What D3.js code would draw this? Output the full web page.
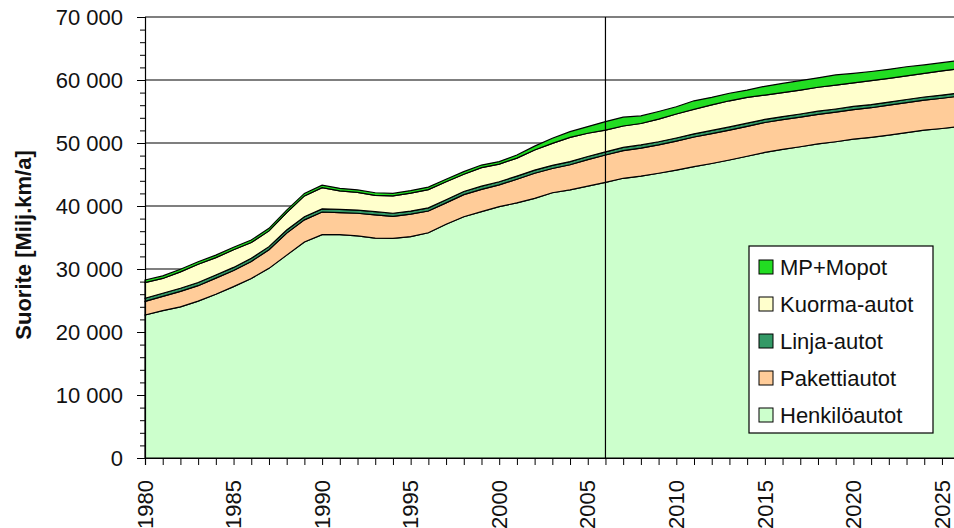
<!DOCTYPE html>
<meta charset="utf-8">
<style>
body { margin: 0; background: #fff; }
text { font-family: Arial, "Liberation Sans", sans-serif; fill: #111; }
.tick-label { font-size: 22px; }
.legend text { font-size: 22px; }
.ylabel { font-size: 22px; font-weight: bold; }
.layer { stroke: #000; stroke-width: 1.2px; }
</style>
<body>
<svg width="954" height="528"></svg>
<script src="https://d3js.org/d3.v7.min.js"></script>
<script>

var years = [1980,1981,1982,1983,1984,1985,1986,1987,1988,1989,
             1990,1991,1992,1993,1994,1995,1996,1997,1998,1999,
             2000,2001,2002,2003,2004,2005,2006,2007,2008,2009,
             2010,2011,2012,2013,2014,2015,2016,2017,2018,2019,
             2020,2021,2022,2023,2024,2025,2026];

var henkiloautot = [22700,23400,24000,24900,26000,27200,28500,30100,32200,34300,
                    35450,35450,35250,34900,34850,35150,35750,37100,38300,39100,
                    39900,40500,41200,42100,42550,43150,43750,44400,44750,45200,
                    45700,46250,46750,47300,47900,48500,49000,49400,49850,50200,
                    50600,50900,51250,51650,52050,52300,52600];

var pakettiautot = [2150,2250,2450,2450,2550,2550,2700,2950,3500,3500,
                    3600,3500,3600,3700,3500,3550,3450,3400,3500,3550,
                    3450,3750,4000,3850,4000,4200,4350,4400,4450,4500,
                    4600,4700,4750,4750,4750,4750,4700,4700,4700,4700,
                    4700,4700,4750,4750,4750,4800,4850];

var linjaautot = [500,500,500,500,500,500,500,500,500,500,
                  500,500,500,500,500,500,500,500,500,500,
                  500,500,500,500,500,500,500,500,500,500,
                  500,500,500,500,500,500,500,500,500,500,
                  500,500,500,500,500,500,500];

var kuormaautot = [2500,2350,2600,2900,2750,2800,2500,2500,2750,3300,
                   3350,2950,2800,2600,2750,2850,2900,2850,2750,2950,
                   2800,2850,3200,3500,3850,3700,3450,3400,3400,3600,
                   3800,3900,4050,4150,4100,3850,3800,3800,3800,3800,
                   3750,3800,3750,3750,3750,3850,3850];

var mpMopot = [400,400,400,400,400,400,400,400,400,400,
               400,400,400,400,400,400,400,400,400,400,
               400,500,600,800,900,1050,1350,1400,1200,1200,
               1150,1350,1200,1200,1150,1400,1450,1500,1500,1600,
               1500,1450,1450,1450,1350,1300,1300];

var seriesNames = ["Henkilöautot", "Pakettiautot", "Linja-autot", "Kuorma-autot", "MP+Mopot"];
var seriesColors = ["#ccffcc", "#ffcc99", "#339966", "#ffffcc", "#22dd22"];
var yTicks = [0, 10000, 20000, 30000, 40000, 50000, 60000, 70000];
var xLabels = [1980, 1985, 1990, 1995, 2000, 2005, 2010, 2015, 2020, 2025];
var markerYear = 2006;
var yTitle = "Suorite [Milj.km/a]";

var svg = d3.select("svg"),
    width = +svg.attr("width"),
    height = +svg.attr("height");

var table = years.map(function(yr, i) {
  var row = { year: yr };
  row[seriesNames[0]] = henkiloautot[i];
  row[seriesNames[1]] = pakettiautot[i];
  row[seriesNames[2]] = linjaautot[i];
  row[seriesNames[3]] = kuormaautot[i];
  row[seriesNames[4]] = mpMopot[i];
  return row;
});

var x = d3.scaleLinear().domain([1980, 2026]).range([145, 145 + 46 * 17.71]);
var y = d3.scaleLinear().domain([0, 70000]).range([458, 17]);

var fmt = d3.formatLocale({ decimal: ",", thousands: "\u00a0", grouping: [3], currency: ["", ""] }).format(",d");

// gridlines behind the areas
svg.append("g")
  .selectAll("line")
  .data(yTicks.slice(1))
  .enter().append("line")
    .attr("x1", x(1980)).attr("x2", width)
    .attr("y1", function(d) { return y(d); })
    .attr("y2", function(d) { return y(d); })
    .attr("stroke", "#000").attr("stroke-width", 1.2);

var stack = d3.stack().keys(seriesNames);
var layers = stack(table);

var area = d3.area()
    .x(function(d) { return x(d.data.year); })
    .y0(function(d) { return y(d[0]); })
    .y1(function(d) { return y(d[1]); });

svg.append("g")
  .selectAll("path")
  .data(layers)
  .enter().append("path")
    .attr("class", "layer")
    .attr("fill", function(d, i) { return seriesColors[i]; })
    .attr("d", area);

// 2006 marker line
svg.append("line")
    .attr("x1", x(markerYear)).attr("x2", x(markerYear))
    .attr("y1", y(70000)).attr("y2", y(0))
    .attr("stroke", "#000").attr("stroke-width", 1.2);

// y axis
var yAxis = d3.axisLeft(y)
    .tickValues(yTicks)
    .tickSize(8)
    .tickPadding(14)
    .tickFormat(fmt);

var yg = svg.append("g")
    .attr("transform", "translate(" + x(1980) + ",0)")
    .call(yAxis);
yg.select(".domain").attr("stroke", "#000").attr("stroke-width", 1.2);
yg.selectAll(".tick text").attr("class", "tick-label").attr("font-size", null).attr("font-family", null);

var yMinor = d3.axisLeft(y)
    .tickValues(d3.range(0, 70001, 2000).filter(function(v) { return v % 10000; }))
    .tickSize(5)
    .tickFormat("");
var ymg = svg.append("g")
    .attr("transform", "translate(" + x(1980) + ",0)")
    .call(yMinor);
ymg.select(".domain").remove();

// x axis
var xAxis = d3.axisBottom(x)
    .tickValues(years)
    .tickSize(7)
    .tickFormat("");
var xg = svg.append("g")
    .attr("transform", "translate(0," + y(0) + ")")
    .call(xAxis);
xg.select(".domain").attr("stroke", "#000").attr("stroke-width", 1.2);

svg.append("g")
  .selectAll("text")
  .data(xLabels)
  .enter().append("text")
    .attr("class", "tick-label")
    .attr("transform", function(d) { return "translate(" + x(d) + ",480) rotate(-90)"; })
    .attr("text-anchor", "end")
    .attr("dy", "0.35em")
    .text(function(d) { return d; });

svg.append("text")
    .attr("class", "ylabel")
    .attr("transform", "translate(31,245) rotate(-90)")
    .attr("text-anchor", "middle")
    .text(yTitle);

// legend
var legend = svg.append("g").attr("class", "legend");
legend.append("rect")
    .attr("x", 749).attr("y", 246)
    .attr("width", 184).attr("height", 187)
    .attr("fill", "#fff").attr("stroke", "#000").attr("stroke-width", 1.2);

var legendOrder = [4, 3, 2, 1, 0];
var item = legend.selectAll("g")
  .data(legendOrder)
  .enter().append("g")
    .attr("transform", function(d, i) { return "translate(759," + (267 + i * 37) + ")"; });

item.append("rect")
    .attr("x", 0).attr("y", -7)
    .attr("width", 14).attr("height", 14)
    .attr("fill", function(d) { return seriesColors[d]; })
    .attr("stroke", "#000").attr("stroke-width", 1);

item.append("text")
    .attr("x", 21)
    .attr("dy", "0.36em")
    .text(function(d) { return seriesNames[d]; });

</script>
